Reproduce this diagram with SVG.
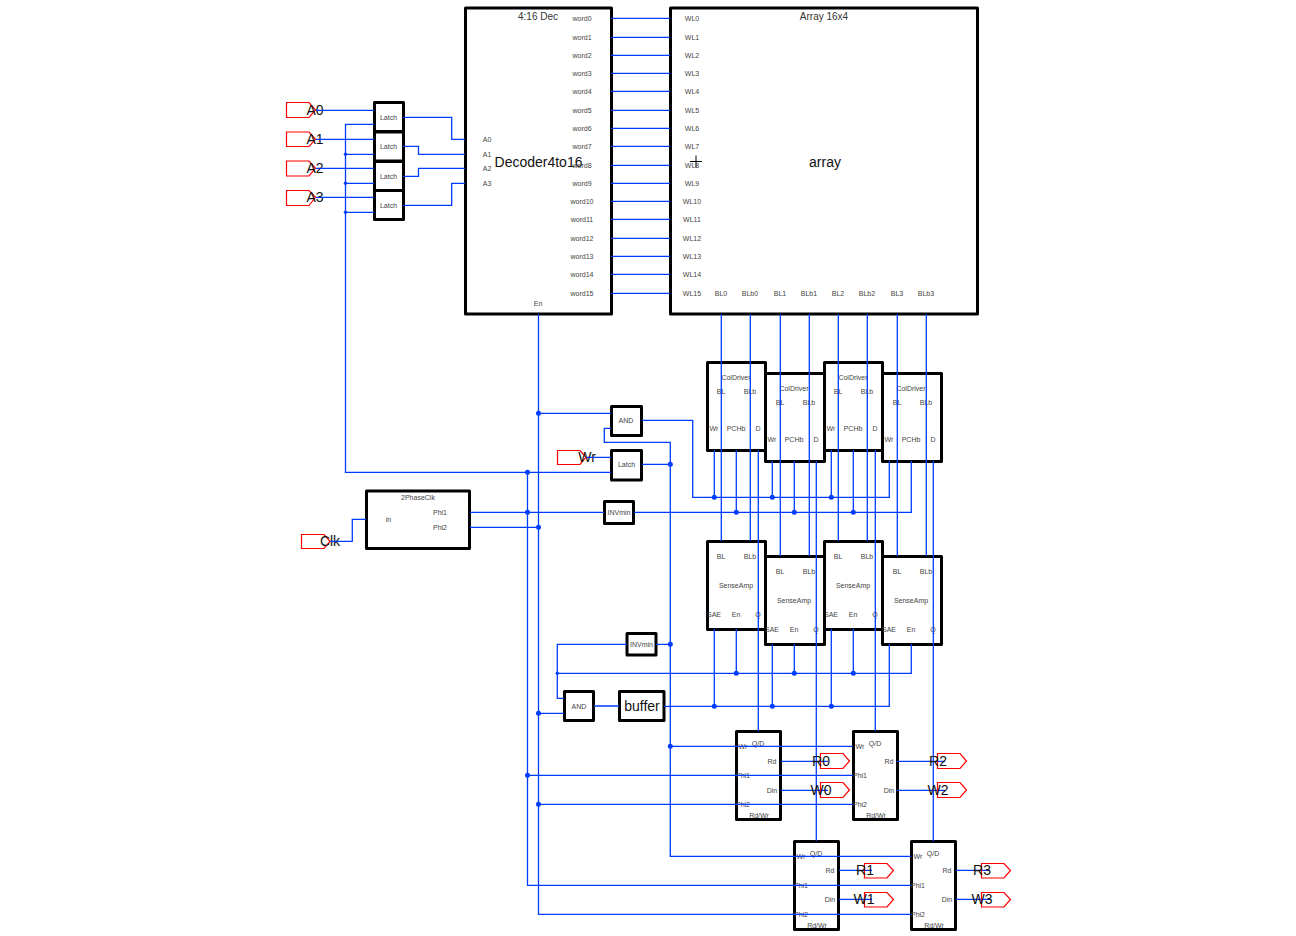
<svg xmlns="http://www.w3.org/2000/svg" width="1296" height="936" viewBox="0 0 1296 936">
<style>
text{font-family:"Liberation Sans",Arial,sans-serif;text-anchor:middle;dominant-baseline:central}
.t{font-size:7px;fill:#444}
.h{font-size:10px;fill:#333}
.L{font-size:14px;fill:#111}
.b{fill:#fff;stroke:#000;stroke-width:3;stroke-linejoin:round}
.p{fill:none;stroke:#f00;stroke-width:1.2}
.w path{fill:none;stroke:#003cff;stroke-width:1.3}
.w circle{fill:#003cff;stroke:none}
</style>
<rect width="1296" height="936" fill="#fff"/>
<g id="decoder">
<rect class="b" x="465.5" y="8" width="146" height="306"/>
<text class="h" x="538" y="16">4:16 Dec</text>
<text class="L" x="538.5" y="161.5">Decoder4to16</text>
<text class="t" x="487" y="139.5">A0</text><text class="t" x="487" y="154.5">A1</text><text class="t" x="487" y="168.5">A2</text><text class="t" x="487" y="183.5">A3</text>
<text class="t" x="538" y="303">En</text>
<text class="t" x="582" y="18.5">word0</text><text class="t" x="582" y="37.5">word1</text><text class="t" x="582" y="55.5">word2</text><text class="t" x="582" y="73.5">word3</text><text class="t" x="582" y="91.5">word4</text><text class="t" x="582" y="110.5">word5</text><text class="t" x="582" y="128.5">word6</text><text class="t" x="582" y="146.5">word7</text><text class="t" x="582" y="165.5">word8</text><text class="t" x="582" y="183.5">word9</text><text class="t" x="582" y="201.5">word10</text><text class="t" x="582" y="219.5">word11</text><text class="t" x="582" y="238.5">word12</text><text class="t" x="582" y="256.5">word13</text><text class="t" x="582" y="274.5">word14</text><text class="t" x="582" y="293.5">word15</text>
</g>
<g id="array">
<rect class="b" x="670.5" y="8" width="307" height="306"/>
<text class="h" x="824" y="16">Array 16x4</text>
<text class="L" x="825" y="161.5">array</text>
<path d="M690 161.500H702M696 155.500V167.500" stroke="#000" stroke-width="1" fill="none"/>
<text class="t" x="692" y="18.500">WL0</text><text class="t" x="692" y="37.500">WL1</text><text class="t" x="692" y="55.500">WL2</text><text class="t" x="692" y="73.500">WL3</text><text class="t" x="692" y="91.500">WL4</text><text class="t" x="692" y="110.500">WL5</text><text class="t" x="692" y="128.500">WL6</text><text class="t" x="692" y="146.500">WL7</text><text class="t" x="692" y="165.500">WL8</text><text class="t" x="692" y="183.500">WL9</text><text class="t" x="692" y="201.500">WL10</text><text class="t" x="692" y="219.500">WL11</text><text class="t" x="692" y="238.500">WL12</text><text class="t" x="692" y="256.500">WL13</text><text class="t" x="692" y="274.500">WL14</text><text class="t" x="692" y="293.500">WL15</text>
<text class="t" x="721" y="293.500">BL0</text><text class="t" x="750" y="293.500">BLb0</text><text class="t" x="780" y="293.500">BL1</text><text class="t" x="809" y="293.500">BLb1</text><text class="t" x="838" y="293.500">BL2</text><text class="t" x="867" y="293.500">BLb2</text><text class="t" x="897" y="293.500">BL3</text><text class="t" x="926" y="293.500">BLb3</text>
</g>
<g id="latch0"><rect class="b" x="374.500" y="102.500" width="29" height="29"/><text class="t" x="388.500" y="117.500">Latch</text></g>
<g id="latch1"><rect class="b" x="374.500" y="132" width="29" height="29"/><text class="t" x="388.500" y="146.500">Latch</text></g>
<g id="latch2"><rect class="b" x="374.500" y="161.500" width="29" height="29"/><text class="t" x="388.500" y="176">Latch</text></g>
<g id="latch3"><rect class="b" x="374.500" y="190.500" width="29" height="29"/><text class="t" x="388.500" y="205">Latch</text></g>
<g id="in-A0"><path class="p" d="M286.500 102.500H309L315.500 110L309 117.500H286.500Z"/><text class="L" x="315" y="109.500">A0</text></g>
<g id="in-A1"><path class="p" d="M286.500 132H309L315.500 139.300L309 146.500H286.500Z"/><text class="L" x="315" y="139">A1</text></g>
<g id="in-A2"><path class="p" d="M286.500 161H309L315.500 168.300L309 176H286.500Z"/><text class="L" x="315" y="168">A2</text></g>
<g id="in-A3"><path class="p" d="M286.500 190.500H309L315.500 197.300L309 205.500H286.500Z"/><text class="L" x="315" y="197">A3</text></g>
<g id="in-Wr"><path class="p" d="M557.500 450.500H580L586 457.300L580 464.500H557.500Z"/><text class="L" x="587" y="457">Wr</text></g>
<g id="in-Clk"><path class="p" d="M301.500 534.500H324L330 541.300L324 548.500H301.500Z"/><text class="L" x="330" y="541">Clk</text></g>
<g id="clkgen"><rect class="b" x="366.500" y="491" width="103" height="57.500"/><text class="t" x="418" y="497.500">2PhaseClk</text><text class="t" x="388.500" y="519.500">in</text><text class="t" x="440" y="512.500">Phi1</text><text class="t" x="440" y="527.500">Phi2</text></g>
<g id="and-wr"><rect class="b" x="611.500" y="406.500" width="30" height="29"/><text class="t" x="626" y="420.500">AND</text></g>
<g id="latch-wr"><rect class="b" x="611.500" y="450.500" width="30" height="29.500"/><text class="t" x="626.500" y="464.500">Latch</text></g>
<g id="inv-phi"><rect class="b" x="604.500" y="501.500" width="29" height="22"/><text class="t" x="619" y="512.500">INVmin</text></g>
<g id="inv-sae"><rect class="b" x="627" y="633.500" width="29" height="21.500"/><text class="t" x="641.500" y="644.500">INVmin</text></g>
<g id="and-sae"><rect class="b" x="564.500" y="691.500" width="29" height="29"/><text class="t" x="579" y="706">AND</text></g>
<g id="buffer"><rect class="b" x="619.500" y="691.500" width="44.500" height="29"/><text class="L" x="642" y="706">buffer</text></g>
<g id="cd0"><rect class="b" x="707.500" y="362.500" width="58" height="88"/><text class="t" x="736" y="377.500">ColDriver</text><text class="t" x="721" y="391.500">BL</text><text class="t" x="750" y="391.500">BLb</text><text class="t" x="714" y="428.500">Wr</text><text class="t" x="736" y="428.500">PCHb</text><text class="t" x="758" y="428.500">D</text></g>
<g id="cd2"><rect class="b" x="824.500" y="362.500" width="58" height="88"/><text class="t" x="853" y="377.500">ColDriver</text><text class="t" x="838" y="391.500">BL</text><text class="t" x="867" y="391.500">BLb</text><text class="t" x="831" y="428.500">Wr</text><text class="t" x="853" y="428.500">PCHb</text><text class="t" x="875" y="428.500">D</text></g>
<g id="cd1"><rect class="b" x="765.500" y="373.500" width="59" height="88"/><text class="t" x="794" y="388.500">ColDriver</text><text class="t" x="780" y="402.500">BL</text><text class="t" x="809" y="402.500">BLb</text><text class="t" x="772" y="439.500">Wr</text><text class="t" x="794" y="439.500">PCHb</text><text class="t" x="816" y="439.500">D</text></g>
<g id="cd3"><rect class="b" x="882.500" y="373.500" width="59" height="88"/><text class="t" x="911" y="388.500">ColDriver</text><text class="t" x="897" y="402.500">BL</text><text class="t" x="926" y="402.500">BLb</text><text class="t" x="889" y="439.500">Wr</text><text class="t" x="911" y="439.500">PCHb</text><text class="t" x="933" y="439.500">D</text></g>
<g id="sa0"><rect class="b" x="707.500" y="541.500" width="58" height="88"/><text class="t" x="721" y="556.500">BL</text><text class="t" x="750" y="556.500">BLb</text><text class="t" x="736" y="585.500">SenseAmp</text><text class="t" x="714" y="614.500">SAE</text><text class="t" x="736" y="614.500">En</text><text class="t" x="758" y="614.500">Q</text></g>
<g id="sa2"><rect class="b" x="824.500" y="541.500" width="58" height="88"/><text class="t" x="838" y="556.500">BL</text><text class="t" x="867" y="556.500">BLb</text><text class="t" x="853" y="585.500">SenseAmp</text><text class="t" x="831" y="614.500">SAE</text><text class="t" x="853" y="614.500">En</text><text class="t" x="875" y="614.500">Q</text></g>
<g id="sa1"><rect class="b" x="765.500" y="556.500" width="59" height="88"/><text class="t" x="780" y="571.500">BL</text><text class="t" x="809" y="571.500">BLb</text><text class="t" x="794" y="600.500">SenseAmp</text><text class="t" x="772" y="629.500">SAE</text><text class="t" x="794" y="629.500">En</text><text class="t" x="816" y="629.500">Q</text></g>
<g id="sa3"><rect class="b" x="882.500" y="556.500" width="59" height="88"/><text class="t" x="897" y="571.500">BL</text><text class="t" x="926" y="571.500">BLb</text><text class="t" x="911" y="600.500">SenseAmp</text><text class="t" x="889" y="629.500">SAE</text><text class="t" x="911" y="629.500">En</text><text class="t" x="933" y="629.500">Q</text></g>
<g id="io0"><rect class="b" x="736.500" y="731.500" width="44" height="88"/><text class="t" x="758" y="743">Q/D</text><text class="t" x="743" y="746.500">Wr</text><text class="t" x="772" y="761.500">Rd</text><text class="t" x="743" y="775.500">Phi1</text><text class="t" x="772" y="790.500">Din</text><text class="t" x="743" y="804.500">Phi2</text><text class="t" x="759" y="815.500">Rd/Wr</text></g>
<g id="io2"><rect class="b" x="853.500" y="731.500" width="44" height="88"/><text class="t" x="875" y="743">Q/D</text><text class="t" x="860" y="746.500">Wr</text><text class="t" x="889" y="761.500">Rd</text><text class="t" x="860" y="775.500">Phi1</text><text class="t" x="889" y="790.500">Din</text><text class="t" x="860" y="804.500">Phi2</text><text class="t" x="876" y="815.500">Rd/Wr</text></g>
<g id="io1"><rect class="b" x="794.500" y="841.500" width="44" height="88"/><text class="t" x="816" y="853">Q/D</text><text class="t" x="801" y="856.500">Wr</text><text class="t" x="830" y="870.500">Rd</text><text class="t" x="801" y="885.500">Phi1</text><text class="t" x="830" y="899.500">Din</text><text class="t" x="801" y="914.500">Phi2</text><text class="t" x="817" y="925.500">Rd/Wr</text></g>
<g id="io3"><rect class="b" x="911.500" y="841.500" width="44" height="88"/><text class="t" x="933" y="853">Q/D</text><text class="t" x="918" y="856.500">Wr</text><text class="t" x="947" y="870.500">Rd</text><text class="t" x="918" y="885.500">Phi1</text><text class="t" x="947" y="899.500">Din</text><text class="t" x="918" y="914.500">Phi2</text><text class="t" x="934" y="925.500">Rd/Wr</text></g>
<g id="connectors" class="w">
<path d="M611 18.300H670M611 37.300H670M611 55.300H670M611 73.300H670M611 91.300H670M611 110.300H670M611 128.300H670M611 146.300H670M611 165.300H670M611 183.300H670M611 201.300H670M611 219.300H670M611 238.300H670M611 256.300H670M611 274.300H670M611 293.300H670"/>
<path d="M316 110.300H374M316 139.300H374M316 168.300H374M316 197.300H374"/>
<path d="M403 117.300H451.700V139.300H465M403 146.300H418.500V154.300H465M403 176.300H418.500V168.300H465M403 205.300H451.700V183.300H465"/>
<path d="M374 124.300H345.500V472.300H611M345.500 154.300H374M345.500 183.300H374M345.500 212.300H374"/>
<path d="M538.500 314V914.300H911M527.500 472.300V885.300H911M538.500 413.300H611M538.500 527.300H470M470 512.300H604M634 512.300H911.300V461"/>
<path d="M330 541.300H352.300V519.300H366"/>
<path d="M587 457.300H611M642 464.300H670.300M611 428.300H604.300V442.300H670.300V856.300H911M642 420.300H692.700V497.300H889.300V461"/>
<path d="M714.300 497.300V450M772.300 497.300V461M831.300 497.300V450M736.300 512.300V450M794.300 512.300V461M853.300 512.300V450"/>
<path d="M721.300 314V541M750.300 314V541M780.300 314V556M809.300 314V556M838.300 314V541M867.300 314V541M897.300 314V556M926.300 314V556"/>
<path d="M758.300 450V731M816.300 461V841M875.300 450V731M933.300 461V841"/>
<path d="M714.300 629V706.300M772.300 644V706.300M831.300 629V706.300M889.300 644V706.300H664M736.300 629V673.300M794.300 644V673.300M853.300 629V673.300M911.300 644V673.300H557.300"/>
<path d="M594 706H619M564 698.300H557.300V644.300H627M656 644.300H670.300M538.500 713.300H564"/>
<path d="M670.300 746.300H853M527.500 775.300H853M538.500 804.300H853"/>
<path d="M781 761.300H828M781 790.300H828M897 761.300H945M897 790.300H945M839 870.300H872M839 899.300H872M956 870.300H990M956 899.300H990"/>
<g>
<circle cx="345.500" cy="154.300" r="1.700"/><circle cx="345.500" cy="183.300" r="1.700"/><circle cx="345.500" cy="212.300" r="1.700"/>
<circle cx="538.500" cy="413.300" r="2.500"/><circle cx="527.500" cy="472.300" r="2.500"/><circle cx="527.500" cy="512.300" r="2.500"/><circle cx="538.500" cy="527.300" r="2.500"/>
<circle cx="670.300" cy="464.300" r="2.500"/><circle cx="670.300" cy="644.300" r="2.500"/><circle cx="670.300" cy="746.300" r="2.500"/>
<circle cx="714.300" cy="497.300" r="2.500"/><circle cx="772.300" cy="497.300" r="2.500"/><circle cx="831.300" cy="497.300" r="2.500"/>
<circle cx="736.300" cy="512.300" r="2.500"/><circle cx="794.300" cy="512.300" r="2.500"/><circle cx="853.300" cy="512.300" r="2.500"/>
<circle cx="736.300" cy="673.300" r="2.500"/><circle cx="794.300" cy="673.300" r="2.500"/><circle cx="853.300" cy="673.300" r="2.500"/>
<circle cx="714.300" cy="706.300" r="2.500"/><circle cx="772.300" cy="706.300" r="2.500"/><circle cx="831.300" cy="706.300" r="2.500"/>
<circle cx="557.300" cy="673.300" r="1.700"/><circle cx="538.500" cy="713.300" r="2.500"/>
<circle cx="527.500" cy="775.300" r="2.500"/><circle cx="538.500" cy="804.300" r="2.500"/>
</g>
</g>
<g id="out-R0"><path class="p" d="M820.500 753.500H843L849.500 761L843 768.500H820.500Z"/><text class="L" x="821" y="761">R0</text></g>
<g id="out-W0"><path class="p" d="M820.500 782.500H843L849.500 790L843 797.500H820.500Z"/><text class="L" x="821" y="790">W0</text></g>
<g id="out-R2"><path class="p" d="M937.500 753.500H960L966.500 761L960 768.500H937.500Z"/><text class="L" x="938" y="761">R2</text></g>
<g id="out-W2"><path class="p" d="M937.500 782.500H960L966.500 790L960 797.500H937.500Z"/><text class="L" x="938" y="790">W2</text></g>
<g id="out-R1"><path class="p" d="M864.500 863.500H887L893.500 870.500L887 878H864.500Z"/><text class="L" x="865" y="870">R1</text></g>
<g id="out-W1"><path class="p" d="M864.500 892.500H887L893.500 899.500L887 907H864.500Z"/><text class="L" x="864" y="899">W1</text></g>
<g id="out-R3"><path class="p" d="M981.500 863.500H1004L1010.500 870.500L1004 878H981.500Z"/><text class="L" x="982" y="870">R3</text></g>
<g id="out-W3"><path class="p" d="M981.500 892.500H1004L1010.500 899.500L1004 907H981.500Z"/><text class="L" x="982" y="899">W3</text></g>
</svg>
